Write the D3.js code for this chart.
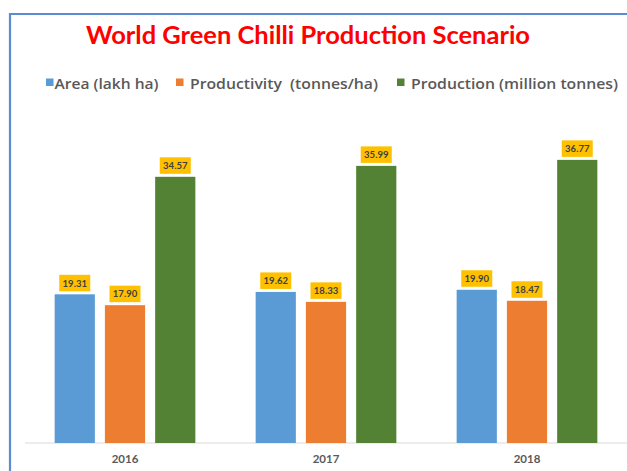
<!DOCTYPE html>
<html>
<head>
<meta charset="utf-8">
<script src="https://cdn.jsdelivr.net/npm/d3@7/dist/d3.min.js"></script>
<style>
  html, body { margin: 0; padding: 0; background: #fff; }
  svg { display: block; }
</style>
</head>
<body>
<svg id="chart" width="627" height="471"></svg>
<script>
// Chart data
const years = ["2016", "2017", "2018"];
const seriesNames = ["Area (lakh ha)", "Productivity  (tonnes/ha)", "Production (million tonnes)"];
const seriesColors = ["#5B9BD5", "#ED7D31", "#548235"];
const area = [19.31, 19.62, 19.90];
const productivity = [17.90, 18.33, 18.47];
const production = [34.57, 35.99, 36.77];

const seriesValues = [area, productivity, production];
const rows = years.map((y, i) => ({
  year: y,
  values: seriesValues.map((vals, s) => ({ key: s, value: vals[i] }))
}));

const svg = d3.select("#chart");
const W = 627, H = 471;
const font = "Lato, 'Open Sans', 'Liberation Sans', sans-serif";

// Frame around the chart area
svg.append("path")
  .attr("d", `M10,${H + 2} V14 H${W + 2}`)
  .attr("fill", "none")
  .attr("stroke", "#5B8BD0")
  .attr("stroke-width", 2.2);

// Title
svg.append("text")
  .attr("x", 86).attr("y", 44)
  .attr("font-family", font)
  .attr("font-weight", "bold")
  .attr("font-size", 25)
  .attr("fill", "#FF0000")
  .attr("textLength", 444)
  .attr("lengthAdjust", "spacingAndGlyphs")
  .text("World Green Chilli Production Scenario");

// Scales
const x0 = d3.scaleBand().domain(years).range([24.5, 627.5]).paddingInner(0.3).paddingOuter(0.15);
const x1 = d3.scaleBand().domain([0, 1, 2]).range([0, x0.bandwidth()]).paddingInner(0.2).paddingOuter(0);
const y = d3.scaleLinear().domain([0, 40]).range([443, 135]);

// Baseline
svg.append("line")
  .attr("x1", 25).attr("x2", W)
  .attr("y1", y(0)).attr("y2", y(0))
  .attr("stroke", "#D9D9D9").attr("stroke-width", 1.2);

// Bars
const groups = svg.append("g").selectAll("g").data(rows).join("g")
  .attr("transform", d => `translate(${x0(d.year)},0)`);

groups.selectAll("rect.bar").data(d => d.values).join("rect")
  .attr("class", "bar")
  .attr("x", d => x1(d.key))
  .attr("y", d => y(d.value))
  .attr("width", x1.bandwidth())
  .attr("height", d => y(0) - y(d.value))
  .attr("fill", d => seriesColors[d.key]);

// Value labels in yellow boxes
const lbl = groups.selectAll("g.lbl").data(d => d.values).join("g")
  .attr("class", "lbl")
  .attr("transform", d => `translate(${x1(d.key) + x1.bandwidth() / 2},${y(d.value) - 3})`);
lbl.append("rect")
  .attr("x", -15.5).attr("y", -16.5)
  .attr("width", 31).attr("height", 16.5)
  .attr("fill", "#FFC000");
lbl.append("text")
  .attr("x", 0).attr("y", -4.8)
  .attr("text-anchor", "middle")
  .attr("font-family", font)
  .attr("font-weight", "bold")
  .attr("font-size", 9.5)
  .attr("fill", "#404040")
  .text(d => d.value.toFixed(2));

// Category axis labels
const xAxis = d3.axisBottom(x0).tickSize(0).tickPadding(12);
const ax = svg.append("g").attr("transform", `translate(0,${y(0)})`).call(xAxis);
ax.select(".domain").remove();
ax.selectAll("text")
  .attr("font-family", font)
  .attr("font-weight", "bold")
  .attr("font-size", 11.5)
  .attr("fill", "#595959");

// Legend
const legendX = [46, 176, 397];
const legendTextW = [104, 188, 207];
const leg = svg.append("g").selectAll("g").data(seriesNames).join("g")
  .attr("transform", (d, i) => `translate(${legendX[i]},83)`);
leg.append("rect")
  .attr("x", 0).attr("y", -4.5).attr("width", 7.5).attr("height", 7.5)
  .attr("fill", (d, i) => seriesColors[i]);
leg.append("text")
  .attr("x", (d, i) => i === 0 ? 8.5 : 14)
  .attr("y", 5.5)
  .attr("font-family", "'Open Sans', Lato, sans-serif")
  .attr("font-weight", 600)
  .attr("font-size", 14.5)
  .attr("fill", "#595959")
  .attr("textLength", (d, i) => legendTextW[i])
  .attr("lengthAdjust", "spacingAndGlyphs")
  .attr("xml:space", "preserve")
  .style("white-space", "pre")
  .text(d => d);
</script>
</body>
</html>
